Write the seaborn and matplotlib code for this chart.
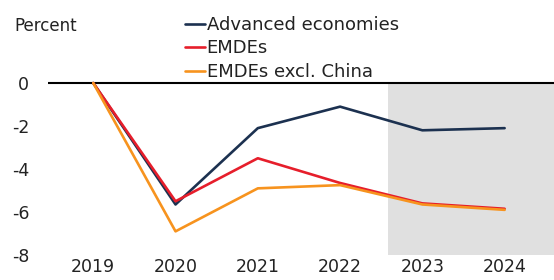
import pandas as pd
import matplotlib.pyplot as plt
import seaborn as sns

# Data (percent deviation from pre-pandemic trend)
years = [2019, 2020, 2021, 2022, 2023, 2024]
advanced = [0, -5.65, -2.1, -1.1, -2.2, -2.1]
emdes = [0, -5.5, -3.5, -4.65, -5.6, -5.85]
emdes_ex_china = [0, -6.9, -4.9, -4.75, -5.65, -5.9]
series_names = ["Advanced economies", "EMDEs", "EMDEs excl. China"]
colors = ["#1c3150", "#e61e2b", "#f7931e"]
yticks = [0, -2, -4, -6, -8]

df = pd.DataFrame({
    "year": years * 3,
    "value": advanced + emdes + emdes_ex_china,
    "series": [series_names[0]] * 6 + [series_names[1]] * 6 + [series_names[2]] * 6,
})

sns.set_theme(style="white")
plt.rcParams["font.family"] = ["DejaVu Sans"]

fig = plt.figure(figsize=(5.54, 2.8), dpi=100)
ax = fig.add_axes([48 / 554, 25 / 280, 506 / 554, 255 / 280])

# forecast shading (2023-2024)
ax.fill_between([2022.58, 2024.7], -8, 0, color="#e0e0e0", lw=0, zorder=0)

sns.lineplot(data=df, x="year", y="value", hue="series", palette=colors,
             linewidth=1.9, ax=ax, zorder=3)
ax.axhline(0, color="black", lw=1.5, zorder=2)

ax.set_xlim(2018.45, 2024.6)
ax.set_ylim(-8, 83 / 21.5)
ax.set_yticks(yticks)
ax.set_yticklabels([str(t) for t in yticks])
ax.set_xticks(years)
ax.set_xlabel("")
ax.set_ylabel("")
ax.tick_params(length=0, labelsize=12.5, colors="#222222")
ax.tick_params(axis="y", pad=13.5)
ax.tick_params(axis="x", pad=2, labelsize=12.5)
for s in ax.spines.values():
    s.set_visible(False)

fig.text(14 / 554, 1 - 26 / 280, "Percent", fontsize=12, color="#222222", va="center")

leg = ax.legend(loc="upper left", bbox_to_anchor=(176 / 554, 1 - 7 / 280),
                bbox_transform=fig.transFigure, frameon=False, handlelength=1.1,
                handletextpad=0.1, labelspacing=0.3, borderpad=0, fontsize=13)
for t in leg.get_texts():
    t.set_color("#222222")

fig.savefig("out.png", dpi=100)
